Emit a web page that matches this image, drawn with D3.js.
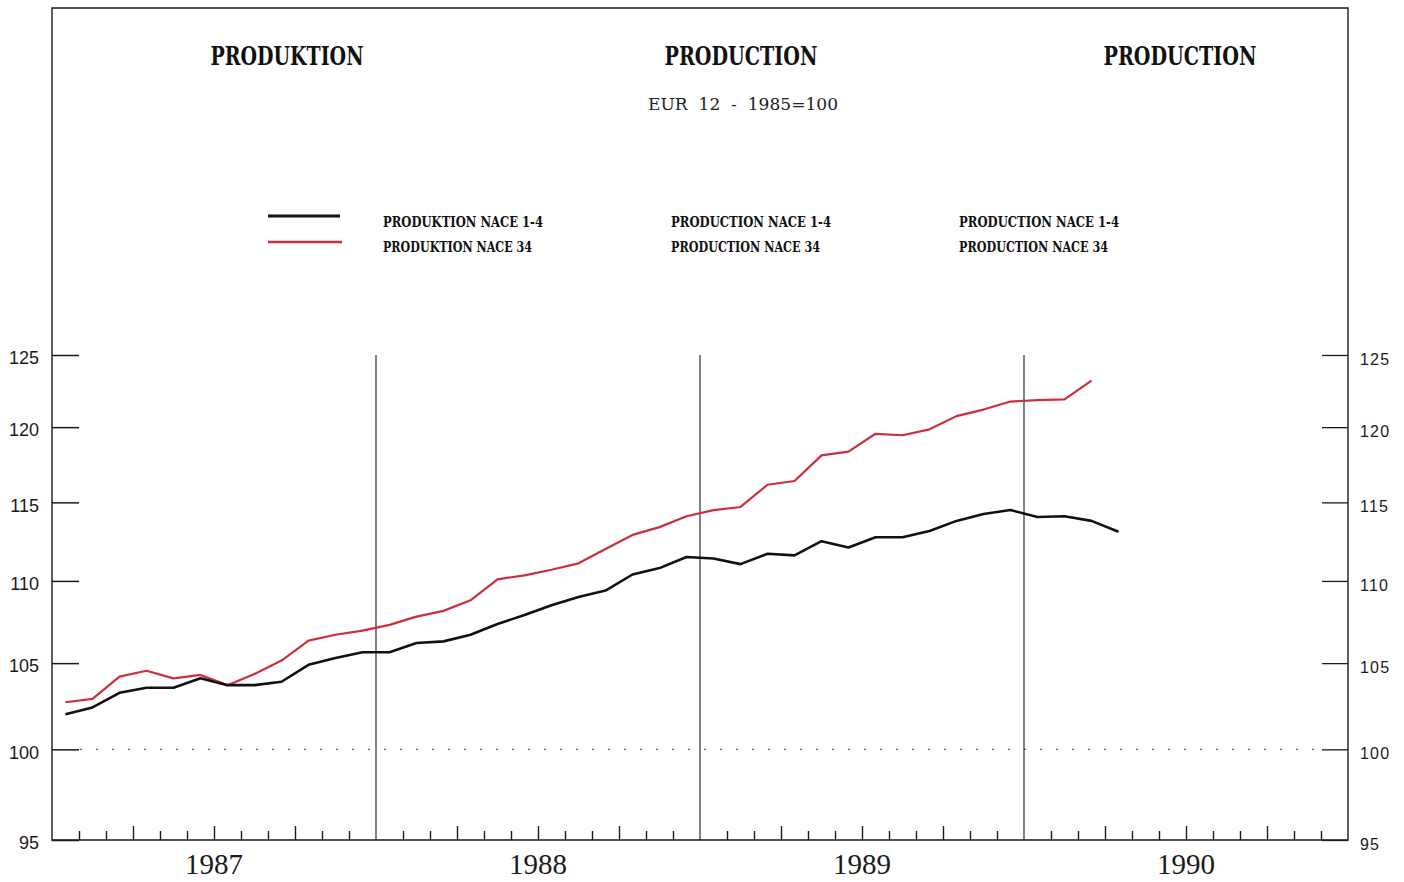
<!DOCTYPE html>
<html>
<head>
<meta charset="utf-8">
<script src="https://cdn.jsdelivr.net/npm/d3@7"></script>
<style>
  html, body { margin: 0; padding: 0; background: #ffffff; }
  svg { display: block; }
</style>
</head>
<body>
<script>
// ---------- DATA ----------
const years = ["1987", "1988", "1989", "1990"];
const titles = ["PRODUKTION", "PRODUCTION", "PRODUCTION"];
const subtitle = "EUR  12  -  1985=100";
const legendBlack = ["PRODUKTION NACE 1-4", "PRODUCTION NACE 1-4", "PRODUCTION NACE 1-4"];
const legendRed = ["PRODUKTION NACE 34", "PRODUCTION NACE 34", "PRODUCTION NACE 34"];
const yTicks = [95, 100, 105, 110, 115, 120, 125];
// monthly index values, Jan 1987 onwards
const nace14 = [102.0, 102.4, 103.25, 103.55, 103.55, 104.1, 103.7, 103.7, 103.9, 104.9,
                105.3, 105.65, 105.65, 106.2, 106.3, 106.7, 107.35, 107.9, 108.5, 109.0,
                109.4, 110.4, 110.8, 111.5, 111.4, 111.05, 111.7, 111.6, 112.5, 112.1,
                112.75, 112.75, 113.15, 113.8, 114.25, 114.5, 114.05, 114.1, 113.8, 113.1];
const nace34 = [102.7, 102.9, 104.2, 104.55, 104.1, 104.3, 103.7, 104.35, 105.15, 106.35,
                106.7, 106.95, 107.3, 107.8, 108.15, 108.8, 110.1, 110.35, 110.7, 111.1,
                112.0, 112.9, 113.4, 114.1, 114.5, 114.7, 116.15, 116.4, 118.1, 118.35,
                119.55, 119.45, 119.85, 120.75, 121.2, 121.75, 121.85, 121.9, 123.2];

// ---------- LAYOUT ----------
const W = 1404, H = 882;
const L = 52, R = 1348, TOP = 8, B = 840, YTOP = 355;

const svg = d3.select("body").append("svg").attr("width", W).attr("height", H);
svg.append("rect").attr("width", W).attr("height", H).attr("fill", "#ffffff");

const x = d3.scaleLinear().domain([0, 48]).range([L, R]);
const y = d3.scaleLog().domain([95, 125]).range([B, YTOP]);

const ink = "#1a1a1a";

// frame
svg.append("path")
  .attr("d", `M${L},${B} L${L},${TOP} L${R},${TOP} L${R},${B} Z`)
  .attr("fill", "none").attr("stroke", ink).attr("stroke-width", 1.4);

// dotted 100 line
svg.append("line")
  .attr("x1", L + 28).attr("x2", R - 30)
  .attr("y1", y(100)).attr("y2", y(100))
  .attr("stroke", "#666").attr("stroke-width", 1.3)
  .attr("stroke-dasharray", "2,14");

// year separator lines
svg.append("g").selectAll("line").data([12, 24, 36]).join("line")
  .attr("x1", d => x(d)).attr("x2", d => x(d))
  .attr("y1", y(125)).attr("y2", y(95))
  .attr("stroke", ink).attr("stroke-width", 1.1);

// left axis
const yl = svg.append("g").attr("transform", `translate(${L},0)`)
  .call(d3.axisLeft(y).tickValues(yTicks).tickFormat(d3.format("d")).tickSize(-27).tickPadding(13));
yl.select(".domain").remove();
yl.selectAll(".tick line").attr("stroke", ink).attr("stroke-width", 1.5);
yl.selectAll(".tick text")
  .attr("font-family", "Liberation Sans, Arial, sans-serif")
  .attr("font-size", 18).attr("fill", ink)
  .attr("transform", "translate(0,3)");

// right axis
const yr = svg.append("g").attr("transform", `translate(${R},0)`)
  .call(d3.axisRight(y).tickValues(yTicks).tickFormat(d3.format("d")).tickSize(-26).tickPadding(12));
yr.select(".domain").remove();
yr.selectAll(".tick line").attr("stroke", ink).attr("stroke-width", 1.3);
yr.selectAll(".tick text")
  .attr("font-family", "Liberation Sans, Arial, sans-serif")
  .attr("font-size", 16).attr("letter-spacing", 1.2).attr("fill", ink)
  .attr("transform", "translate(0,4)");

// bottom month ticks
const smallTicks = d3.range(1, 48).filter(k => k % 12 !== 0 && k % 3 !== 0);
const bigTicks = d3.range(1, 48).filter(k => k % 12 !== 0 && k % 3 === 0);
function monthAxis(vals, size) {
  const g = svg.append("g").attr("transform", `translate(0,${B})`)
    .call(d3.axisBottom(x).tickValues(vals).tickSize(-size).tickFormat(""));
  g.select(".domain").remove();
  g.selectAll(".tick line").attr("stroke", ink).attr("stroke-width", 1.4);
}
monthAxis(smallTicks, 9);
monthAxis(bigTicks, 14);

// year labels
svg.append("g").selectAll("text").data(years).join("text")
  .attr("x", (d, i) => x(i * 12 + 6)).attr("y", 874)
  .attr("text-anchor", "middle")
  .attr("font-family", "Liberation Serif, Times New Roman, serif")
  .attr("font-size", 30).attr("fill", ink)
  .attr("textLength", 58).attr("lengthAdjust", "spacingAndGlyphs")
  .text(d => d);

// lines
const line = d3.line().x((d, i) => x(i + 0.5)).y(d => y(d));
svg.append("path").datum(nace34).attr("d", line)
  .attr("fill", "none").attr("stroke", "#cc2e3c").attr("stroke-width", 2.2)
  .attr("stroke-linejoin", "round");
svg.append("path").datum(nace14).attr("d", line)
  .attr("fill", "none").attr("stroke", "#111").attr("stroke-width", 2.6)
  .attr("stroke-linejoin", "round");

// titles
const titleX = [287, 741, 1180];
svg.append("g").selectAll("text").data(titles).join("text")
  .attr("x", (d, i) => titleX[i]).attr("y", 65)
  .attr("text-anchor", "middle")
  .attr("font-family", "DejaVu Serif, serif").attr("font-weight", "bold")
  .attr("font-size", 26).attr("fill", "#111")
  .attr("textLength", 153).attr("lengthAdjust", "spacingAndGlyphs")
  .text(d => d);

svg.append("text")
  .attr("x", 648).attr("y", 110)
  .attr("font-family", "DejaVu Serif, serif").attr("font-size", 17).attr("fill", "#222")
  .attr("xml:space", "preserve").style("white-space", "pre")
  .attr("textLength", 190).attr("lengthAdjust", "spacingAndGlyphs")
  .text(subtitle);

// legend
svg.append("line").attr("x1", 268).attr("x2", 340).attr("y1", 216).attr("y2", 216)
  .attr("stroke", "#111").attr("stroke-width", 2.8);
svg.append("line").attr("x1", 268).attr("x2", 342).attr("y1", 242).attr("y2", 242)
  .attr("stroke", "#cc2e3c").attr("stroke-width", 2.4);
const legX = [383, 671, 959];
const lg = svg.append("g")
  .attr("font-family", "DejaVu Serif, serif").attr("font-weight", "bold")
  .attr("font-size", 15).attr("fill", "#111");
lg.selectAll("text.b").data(legendBlack).join("text").attr("class", "b")
  .attr("x", (d, i) => legX[i]).attr("y", 227)
  .attr("textLength", 160).attr("lengthAdjust", "spacingAndGlyphs")
  .text(d => d);
lg.selectAll("text.r").data(legendRed).join("text").attr("class", "r")
  .attr("x", (d, i) => legX[i]).attr("y", 252)
  .attr("textLength", 149).attr("lengthAdjust", "spacingAndGlyphs")
  .text(d => d);
</script>
</body>
</html>
